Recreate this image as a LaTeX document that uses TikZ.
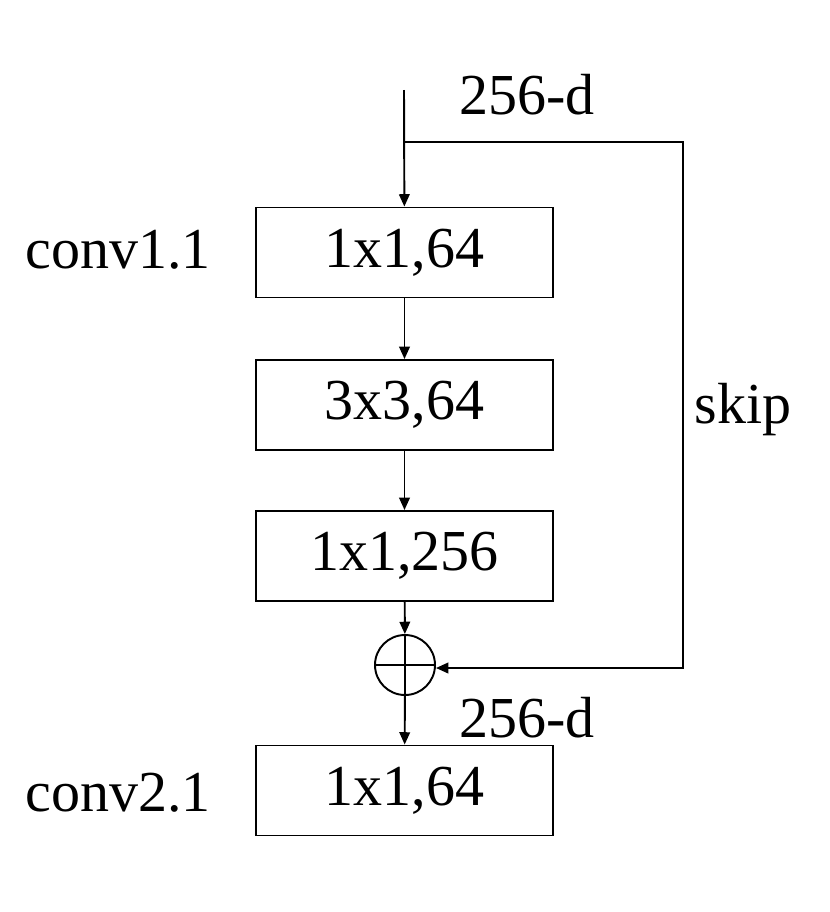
\documentclass[tikz,border=0pt]{standalone}
\usepackage{fontspec}
\setmainfont{Liberation Serif}
\usetikzlibrary{arrows.meta}
\begin{document}
\begin{tikzpicture}[line width=1.1pt,font=\fontsize{33}{40}\selectfont,
    layer/.style={shape=rectangle,draw=black,minimum width=5.94cm,minimum height=1.8cm,inner sep=0pt},
    >={Triangle[length=7pt,width=6pt]}]
    \useasboundingbox (0,0) rectangle (16.6,-18.24);
    \coordinate (In) at (8.08,-1.8);
    \coordinate (Split) at (8.08,-2.84);
    \coordinate (SkipTop) at (13.66,-2.84);
    \coordinate (SkipBottom) at (13.66,-13.36);
    \node[layer] (Conv1a) at (8.09,-5.05) {1x1,64};
    \node[layer] (Conv1b) at (8.09,-8.1) {3x3,64};
    \node[layer] (Conv1c) at (8.09,-11.12) {1x1,256};
    \node[shape=circle,draw=black,minimum size=1.2cm,inner sep=0pt] (Sum) at (8.1,-13.3) {};
    \node[layer] (Conv2a) at (8.09,-15.81) {1x1,64};
    \node(Dim in) at (10.54,-1.9) {256-d};
    \node(Dim out) at (10.54,-14.36) {256-d};
    \node(Skip) at (14.86,-8.2) {skip};
    \node(Name1) at (2.36,-5.0) {conv1.1};
    \node(Name2) at (2.36,-15.86) {conv2.1};

    \draw (Sum.north) -- (Sum.south) (Sum.west) -- (Sum.east);
    \path [->] (In) edge node {} (Conv1a);
    \path [->](Conv1a) edge node {} (Conv1b);
    \path [->](Conv1b) edge node {} (Conv1c);
    \path [->](Conv1c) edge node {} (Sum);
    \path [->](Sum) edge node {} (Conv2a);
    \draw [->] (Split) -- (SkipTop) -- (SkipBottom) -- (Sum.east |- SkipBottom);
\end{tikzpicture}
\end{document}
